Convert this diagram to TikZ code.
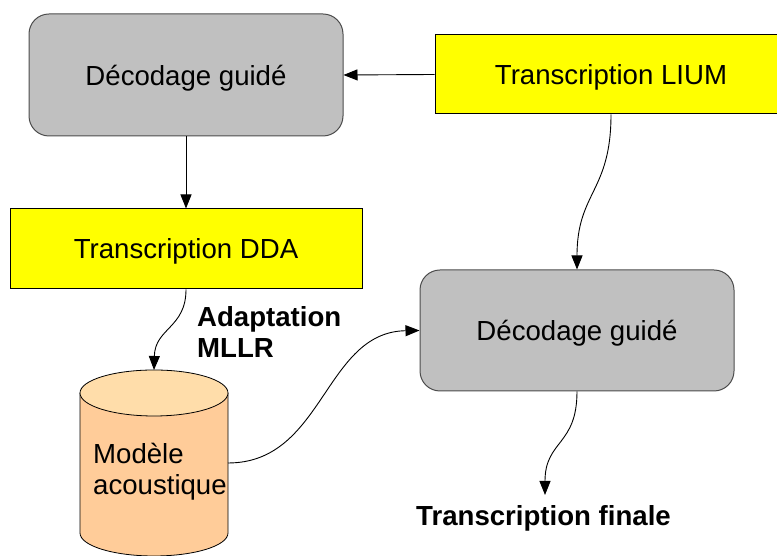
\documentclass[tikz,border=0pt]{standalone}
\usepackage{fontspec}
\setmainfont{Liberation Sans}
\usetikzlibrary{arrows.meta}
\definecolor{boxgray}{HTML}{C0C0C0}
\definecolor{boxyellow}{HTML}{FFFF00}
\definecolor{cylbody}{HTML}{FFCC99}
\definecolor{cyltop}{HTML}{FFDDAA}
\begin{document}
\begin{tikzpicture}[x=1pt,y=1pt,
  txt/.style={font=\fontsize{27.6}{31}\selectfont},
  graybox/.style={draw=black!70, line width=1pt, fill=boxgray, rounded corners=20pt, inner sep=0pt, text depth=0pt, txt},
  yellowbox/.style={draw=black, line width=1pt, fill=boxyellow, inner sep=0pt, text depth=0pt, txt},
  conn/.style={line width=0.9pt, -{Triangle[length=14pt,width=11pt]}},
  boldlbl/.style={font=\fontsize{27.6}{31}\selectfont\bfseries, inner sep=0pt}
]
\useasboundingbox (0,0) rectangle (777,556);
\node[graybox, minimum width=314pt, minimum height=122pt] (A) at (186,481) {Décodage guidé};
\node[yellowbox, minimum width=352pt, minimum height=79pt] (B) at (611,481.5) {Transcription LIUM};
\node[yellowbox, minimum width=352pt, minimum height=80pt] (C) at (186,307) {Transcription DDA};
\node[graybox, minimum width=314pt, minimum height=121pt] (D) at (577,225.5) {Décodage guidé};
% cylinder
\filldraw[fill=cylbody, draw=black, line width=0.8pt] (80,163) -- (80,23) arc[start angle=180, end angle=360, x radius=74, y radius=23] -- (228,163);
\filldraw[fill=cyltop, draw=black, line width=0.8pt] (154,163) ellipse[x radius=74, y radius=23];
\coordinate (cyltopc) at (154,186);
\coordinate (cylright) at (228,93);
\node[txt, anchor=west, align=left, inner sep=0pt] (M) at (93,84) {Modèle\\acoustique};
\node[boldlbl, anchor=west, align=left] (L) at (197,224) {Adaptation\\MLLR};
\node[boldlbl] (F) at (543.5,38) {Transcription finale};
\coordinate (fend) at (545,61);
% connectors
\draw[conn] (B.west) -- (A.east);
\draw[conn] (A.south) -- (C.north);
\draw[conn] (B.south) .. controls (611,364) and (577,364) .. (D.north);
\draw[conn] (C.south) .. controls (186,228) and (155,228) .. (cyltopc);
\draw[conn] (cylright) .. controls (324,93) and (324,224) .. (D.west);
\draw[conn] (D.south) .. controls (577,110) and (545,116) .. (fend);
\end{tikzpicture}
\end{document}
